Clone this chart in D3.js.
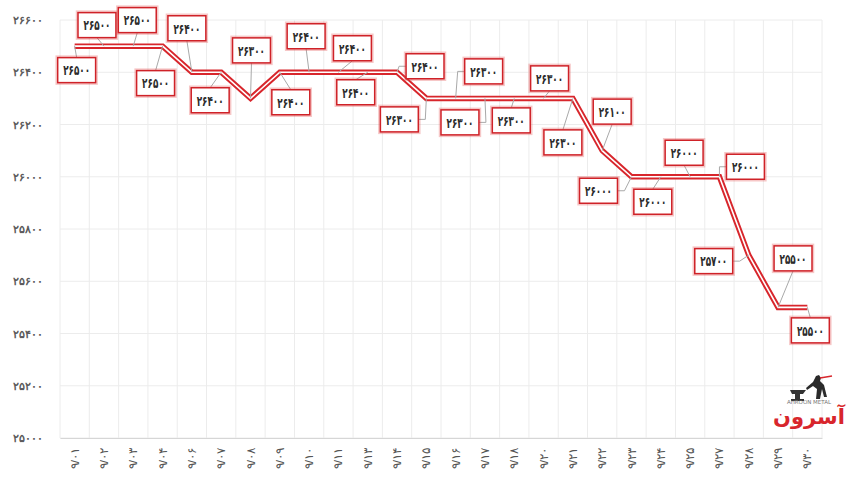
<!DOCTYPE html>
<html>
<head>
<meta charset="utf-8">
<script src="https://cdn.jsdelivr.net/npm/d3@7"></script>
<style>
  body { margin: 0; background: #fff; }
  svg { font-family: "DejaVu Sans", sans-serif; }
</style>
</head>
<body>
<svg id="chart" width="860" height="479"></svg>
<script>
// data
const categories = ["۹/۰۱", "۹/۰۲", "۹/۰۳", "۹/۰۴", "۹/۰۶", "۹/۰۷", "۹/۰۸", "۹/۰۹", "۹/۱۰",
  "۹/۱۱", "۹/۱۳", "۹/۱۴", "۹/۱۵", "۹/۱۶", "۹/۱۷", "۹/۱۸", "۹/۲۰", "۹/۲۱", "۹/۲۲",
  "۹/۲۳", "۹/۲۴", "۹/۲۵", "۹/۲۷", "۹/۲۸", "۹/۲۹", "۹/۳۰"];
const prices = [26500, 26500, 26500, 26500, 26400, 26400, 26300, 26400, 26400, 26400,
  26400, 26400, 26300, 26300, 26300, 26300, 26300, 26300, 26100, 26000,
  26000, 26000, 26000, 25700, 25500, 25500];
const yTicks = [25000, 25200, 25400, 25600, 25800, 26000, 26200, 26400, 26600];

// where each value box sits, relative to its point (layout only)
const labelOffsets = [[2, 24], [-7, -21], [4, -26], [-7, 37], [-5, -44], [-11, 28], [1, -48],
  [11, 30], [-3, -36], [14, -24], [-12, 20], [28, -6], [-27, 21], [28, -27], [-25, 24],
  [-3, 22], [6, -20], [-10, 44], [10, -39], [-33, 14], [-8, 25], [-6, -24], [26, -10],
  [-35, 6], [15, -49], [3, 23]];

const faDigits = "۰۱۲۳۴۵۶۷۸۹";
function toFa(n) {
  return String(n).replace(/\d/g, function(d) { return faDigits[+d]; });
}

const svg = d3.select("#chart");
const margin = {left: 60, right: 38, top: 20, bottom: 41};
const W = 860, H = 479;

const x = d3.scaleBand()
  .domain(categories)
  .range([margin.left, W - margin.right]);
const y = d3.scaleLinear()
  .domain([25000, 26600])
  .range([H - margin.bottom, margin.top]);

// grid
const grid = svg.append("g");
grid.selectAll("line.h")
  .data(yTicks)
  .enter()
  .append("line")
  .attr("x1", margin.left)
  .attr("x2", W - margin.right)
  .attr("y1", d => y(d))
  .attr("y2", d => y(d))
  .attr("stroke", "#ececec");
grid.selectAll("line.v")
  .data(categories)
  .enter()
  .append("line")
  .attr("x1", d => x(d))
  .attr("x2", d => x(d))
  .attr("y1", y(26600))
  .attr("y2", y(25000))
  .attr("stroke", "#ececec");
grid.append("line")
  .attr("x1", W - margin.right).attr("x2", W - margin.right)
  .attr("y1", y(26600)).attr("y2", y(25000))
  .attr("stroke", "#ececec");

// y axis
const yAxis = svg.append("g")
  .attr("transform", "translate(" + (margin.left - 14) + ",0)")
  .call(d3.axisLeft(y).tickValues(yTicks).tickFormat(toFa).tickSize(0));
yAxis.select(".domain").remove();
yAxis.selectAll("text")
  .attr("fill", "#5a5a5a")
  .attr("font-size", 11)
  .attr("font-weight", "bold");

// x axis
const xAxis = svg.append("g")
  .attr("transform", "translate(0," + y(25000) + ")")
  .call(d3.axisBottom(x).tickSize(0));
xAxis.select(".domain").attr("stroke", "#d6d6d6");
xAxis.selectAll("text")
  .attr("transform", "rotate(-90)")
  .attr("text-anchor", "end")
  .attr("x", -10)
  .attr("y", 0)
  .attr("dy", "0.35em")
  .attr("fill", "#555")
  .attr("font-size", 11.5)
  .attr("direction", "ltr");

// line: red band with white stripe down the middle
const line = d3.line()
  .x((d, i) => x(categories[i]) + x.bandwidth() / 2)
  .y(d => y(d));
svg.append("path")
  .datum(prices)
  .attr("d", line)
  .attr("fill", "none")
  .attr("stroke", "#d8262c")
  .attr("stroke-width", 5.5);
svg.append("path")
  .datum(prices)
  .attr("d", line)
  .attr("fill", "none")
  .attr("stroke", "#fff")
  .attr("stroke-width", 1.6);

// value boxes
const labels = svg.append("g");
prices.forEach(function(v, i) {
  const px = x(categories[i]) + x.bandwidth() / 2;
  const py = y(v);
  const cx = px + labelOffsets[i][0];
  const cy = py + labelOffsets[i][1];
  const g = labels.append("g");
  const conn = g.append("path")
    .attr("fill", "none")
    .attr("stroke", "#a9a9a9")
    .attr("stroke-width", 1);
  const txt = g.append("text")
    .attr("x", cx)
    .attr("y", cy)
    .attr("dy", "0.38em")
    .attr("text-anchor", "middle")
    .attr("font-size", 14)
    .attr("font-weight", "bold")
    .attr("fill", "#2b2b2b")
    .text(toFa(v));
  const tw = txt.node().getBBox().width * 0.63;
  txt.attr("textLength", tw).attr("lengthAdjust", "spacingAndGlyphs");
  const w = tw + 11, h = 25;
  const bx = cx - w / 2, by = cy - h / 2;
  g.insert("rect", "text")
    .attr("x", bx - 1).attr("y", by - 1)
    .attr("width", w + 2).attr("height", h + 2)
    .attr("fill", "none")
    .attr("stroke", "rgba(225,70,70,0.3)")
    .attr("stroke-width", 2.5);
  g.insert("rect", "text")
    .attr("x", bx).attr("y", by)
    .attr("width", w).attr("height", h)
    .attr("fill", "#fff")
    .attr("stroke", "#cf2228")
    .attr("stroke-width", 1.5);
  let d;
  if (Math.abs(cx - px) > w / 2) {
    const s = cx > px ? 1 : -1;
    const ex = s > 0 ? bx : bx + w;
    d = "M" + px + "," + py + "L" + (ex - s * 7) + "," + cy + "L" + ex + "," + cy;
  } else {
    const ey = cy > py ? by : by + h;
    d = "M" + px + "," + py + "L" + cx + "," + ey;
  }
  conn.attr("d", d);
});

// logo, bottom right
const logo = svg.append("g").attr("transform", "translate(776,374)");
logo.append("path")
  .attr("d", "M14,16 h16 l-3,4 h-3 v5 h4 v2 h-13 v-2 h4 v-5 h-3 z")
  .attr("fill", "#333");
logo.append("path")
  .attr("d", "M40,2 l3,-1 l2,3 l-1,3 l4,4 l3,12 l-3,0 l-2,-8 l-2,10 l-4,0 l1,-10 l-4,-3 l-6,4 l-1,-2 l7,-6 z")
  .attr("fill", "#2a2a2a");
logo.append("line")
  .attr("x1", 44).attr("y1", 4).attr("x2", 56).attr("y2", 2)
  .attr("stroke", "#d8262c").attr("stroke-width", 1.5);
logo.append("text")
  .attr("x", 33).attr("y", 30)
  .attr("text-anchor", "middle")
  .attr("font-size", 5.5)
  .attr("fill", "#777")
  .text("AHROON METAL");
logo.append("text")
  .attr("x", 33).attr("y", 50)
  .attr("text-anchor", "middle")
  .attr("font-size", 21)
  .attr("font-weight", "bold")
  .attr("fill", "#d8262c")
  .text("آسرون");
</script>
</body>
</html>
